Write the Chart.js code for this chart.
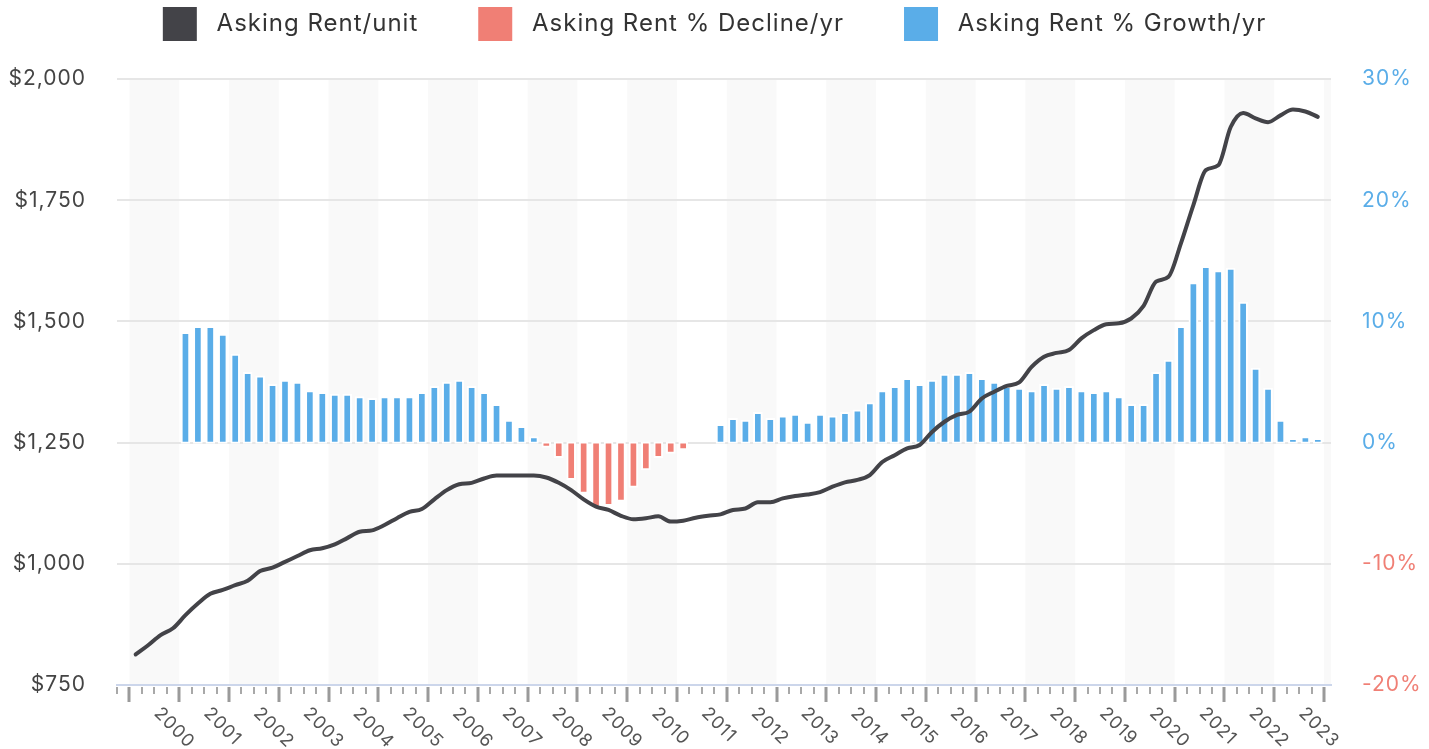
<!DOCTYPE html>
<html>
<head>
<meta charset="utf-8">
<title>Asking Rent per Unit</title>
<script src="https://cdn.jsdelivr.net/npm/chart.js@4.4.0/dist/chart.umd.min.js"></script>
<style>
    html, body { margin: 0; padding: 0; background: #fff; }
    #wrap { width: 1429px; height: 749px; }
</style>
</head>
<body>
<div id="wrap"><canvas id="rentChart" width="1429" height="749"></canvas></div>
<script>
// Quarterly data, 2000 Q1 - 2023 Q4
const years = [2000, 2001, 2002, 2003, 2004, 2005, 2006, 2007, 2008, 2009, 2010, 2011,
               2012, 2013, 2014, 2015, 2016, 2017, 2018, 2019, 2020, 2021, 2022, 2023];

// Asking rent per unit ($), one value per quarter
const askingRent = [
    813, 832, 853, 867,      // 2000
    894, 918, 938, 946,      // 2001
    956, 965, 985, 992,      // 2002
    1004, 1016, 1028, 1032,  // 2003
    1040, 1053, 1066, 1069,  // 2004
    1080, 1094, 1107, 1113,  // 2005
    1133, 1152, 1164, 1167,  // 2006
    1176, 1182, 1182, 1182,  // 2007
    1182, 1178, 1167, 1152,  // 2008
    1133, 1118, 1111, 1099,  // 2009
    1092, 1094, 1098, 1087,  // 2010
    1089, 1095, 1099, 1102,  // 2011
    1111, 1114, 1127, 1127,  // 2012
    1135, 1140, 1143, 1148,  // 2013
    1159, 1168, 1173, 1183,  // 2014
    1210, 1224, 1238, 1245,  // 2015
    1272, 1293, 1307, 1314,  // 2016
    1341, 1355, 1367, 1374,  // 2017
    1406, 1427, 1435, 1441,  // 2018
    1465, 1482, 1494, 1496,  // 2019
    1506, 1532, 1582, 1592,  // 2020
    1661, 1740, 1812, 1822,  // 2021
    1901, 1930, 1919, 1911,  // 2022
    1925, 1937, 1933, 1922   // 2023
];

// Year-over-year change (%), starts 2001 Q1
const rentChangePct = [
    9.1, 9.6, 9.6, 8.95,     // 2001
    7.3, 5.8, 5.5, 4.8,      // 2002
    5.15, 5.0, 4.3, 4.15,    // 2003
    4.0, 4.0, 3.8, 3.65,     // 2004
    3.8, 3.8, 3.8, 4.15,     // 2005
    4.65, 5.0, 5.15, 4.65,   // 2006
    4.15, 3.15, 1.85, 1.35,  // 2007
    0.5, -0.4, -1.25, -3.05, // 2008
    -4.2, -5.35, -5.2, -4.85, // 2009
    -3.7, -2.25, -1.25, -0.9, // 2010
    -0.6, null, null, 1.5,   // 2011
    2.0, 1.85, 2.5, 2.0,     // 2012
    2.2, 2.35, 1.7, 2.35,    // 2013
    2.2, 2.5, 2.7, 3.3,      // 2014
    4.3, 4.65, 5.3, 4.8,     // 2015
    5.15, 5.65, 5.65, 5.8,   // 2016
    5.3, 5.0, 4.65, 4.5,     // 2017
    4.3, 4.8, 4.5, 4.65,     // 2018
    4.3, 4.15, 4.3, 3.8,     // 2019
    3.15, 3.15, 5.8, 6.8,    // 2020
    9.6, 13.2, 14.55, 14.2,  // 2021
    14.4, 11.6, 6.15, 4.5,   // 2022
    1.85, 0.35, 0.5, 0.35    // 2023
];

const rentTicks = [750, 1000, 1250, 1500, 1750, 2000];
const pctTicks = [-20, -10, 0, 10, 20, 30];

const colors = {
    line: '#434348',
    decline: '#f07f75',
    growth: '#5aade8',
    grid: '#e6e6e6',
    band: '#f9f9f9',
    axis: '#ccd6eb',
    tick: '#9a9a9a',
    text: '#444444'
};

Chart.defaults.font.family = 'Inter, "Noto Sans", sans-serif';

// each quarter sits in the middle of its quarter on a decimal-year axis
function quarterX(i) {
    return years[0] + Math.floor(i / 4) + (i % 4) * 0.25 + 0.125;
}

const rentPoints = askingRent.map((v, i) => ({ x: quarterX(i), y: v }));
const growthPoints = rentChangePct.map((v, i) => ({ x: quarterX(i + 4), y: v !== null && v >= 0 ? v : null }));
const declinePoints = rentChangePct.map((v, i) => ({ x: quarterX(i + 4), y: v !== null && v < 0 ? v : null }));

// shaded year bands, quarter tick marks and slanted year labels
const yearAxisPlugin = {
    id: 'yearAxis',
    beforeInit(chart) {
        const fit = chart.legend.fit;
        chart.legend.fit = function () {
            fit.call(this);
            this.height += 28;
        };
    },
    beforeUpdate(chart) {
        // wider text, closer to the original typeface
        chart.ctx.letterSpacing = '1px';
    },
    beforeDraw(chart) {
        const { ctx, chartArea: a, scales: { x } } = chart;
        ctx.letterSpacing = '1px';
        ctx.save();
        ctx.fillStyle = colors.band;
        for (let yr = years[0]; yr <= years[years.length - 1] + 1; yr += 2) {
            const x0 = Math.max(x.getPixelForValue(yr), a.left);
            const x1 = Math.min(x.getPixelForValue(yr + 1), a.right);
            if (x1 > x0) ctx.fillRect(x0, a.top, x1 - x0, a.bottom - a.top);
        }
        ctx.restore();
    },
    afterDraw(chart) {
        const { ctx, chartArea: a, scales: { x } } = chart;
        ctx.save();
        ctx.fillStyle = colors.tick;
        for (let q = 0; ; q++) {
            const v = x.min + q * 0.25;
            if (v > x.max + 1e-6) break;
            const px = Math.round(x.getPixelForValue(v));
            const major = Math.abs(v - Math.round(v)) < 1e-6;
            if (major) ctx.fillRect(px - 1.5, a.bottom + 2, 3, 15);
            else ctx.fillRect(px - 0.85, a.bottom + 2, 1.7, 7);
        }
        ctx.fillStyle = '#555555';
        ctx.font = '18px ' + Chart.defaults.font.family;
        ctx.textAlign = 'left';
        ctx.textBaseline = 'top';
        years.forEach(yr => {
            const px = x.getPixelForValue(yr + 0.5);
            ctx.save();
            ctx.translate(px + 9, a.bottom + 19);
            ctx.rotate(Math.PI / 4);
            ctx.fillText(String(yr), 0, 0);
            ctx.restore();
        });
        ctx.restore();
    }
};

const ctx = document.getElementById('rentChart').getContext('2d');

new Chart(ctx, {
    type: 'bar',
    data: {
        datasets: [
            {
                type: 'line',
                label: 'Asking Rent/unit',
                data: rentPoints,
                yAxisID: 'y',
                borderColor: colors.line,
                backgroundColor: colors.line,
                borderWidth: 4,
                borderCapStyle: 'round',
                pointRadius: 0,
                cubicInterpolationMode: 'monotone'
            },
            {
                label: 'Asking Rent % Decline/yr',
                data: declinePoints,
                yAxisID: 'y1',
                backgroundColor: colors.decline,
                borderColor: '#ffffff',
                borderWidth: 2,
                borderSkipped: false,
                barThickness: 9,
                grouped: false,
                base: 0.07
            },
            {
                label: 'Asking Rent % Growth/yr',
                data: growthPoints,
                yAxisID: 'y1',
                backgroundColor: colors.growth,
                borderColor: '#ffffff',
                borderWidth: 2,
                borderSkipped: false,
                barThickness: 9,
                grouped: false,
                base: -0.07
            }
        ]
    },
    options: {
        responsive: false,
        animation: false,
        devicePixelRatio: 1,
        layout: {
            padding: { top: -53, left: 0, right: 0, bottom: 0 }
        },
        plugins: {
            tooltip: { enabled: false },
            legend: {
                position: 'top',
                align: 'center',
                labels: {
                    boxWidth: 34,
                    boxHeight: 34,
                    padding: 60,
                    color: '#333333',
                    font: { size: 24 },
                    generateLabels(chart) {
                        const items = Chart.defaults.plugins.legend.labels.generateLabels(chart);
                        items.forEach(item => {
                            item.text = ' ' + item.text;
                            item.strokeStyle = 'rgba(0,0,0,0)';
                            item.lineWidth = 0;
                        });
                        return items;
                    }
                }
            }
        },
        scales: {
            x: {
                type: 'linear',
                min: 1999.75,
                max: 2024.14,
                offset: false,
                grid: { display: false, drawTicks: false },
                border: { display: true, color: colors.axis, width: 2 },
                ticks: { display: false },
                afterFit(scale) { scale.height = 64; }
            },
            y: {
                position: 'left',
                min: rentTicks[0],
                max: rentTicks[rentTicks.length - 1],
                afterBuildTicks(scale) { scale.ticks = rentTicks.map(v => ({ value: v })); },
                grid: {
                    color: c => (c.tick && c.tick.value === rentTicks[0]) ? 'rgba(0,0,0,0)' : colors.grid,
                    lineWidth: 2,
                    drawTicks: false
                },
                border: { display: false },
                ticks: {
                    padding: 31,
                    color: colors.text,
                    font: { size: 21 },
                    callback: v => '$' + v.toLocaleString('en-US')
                },
                afterFit(scale) { scale.width = 117; }
            },
            y1: {
                position: 'right',
                min: pctTicks[0],
                max: pctTicks[pctTicks.length - 1],
                afterBuildTicks(scale) { scale.ticks = pctTicks.map(v => ({ value: v })); },
                grid: { drawOnChartArea: false, drawTicks: false },
                border: { display: false },
                ticks: {
                    padding: 31,
                    color: c => c.tick.value < 0 ? colors.decline : colors.growth,
                    font: { size: 21 },
                    callback: v => v + '%'
                },
                afterFit(scale) { scale.width = 98; }
            }
        }
    },
    plugins: [yearAxisPlugin]
});
</script>
</body>
</html>
